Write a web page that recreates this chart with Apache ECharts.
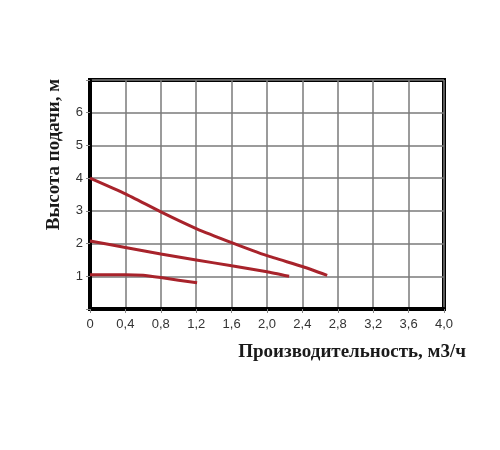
<!DOCTYPE html>
<html>
<head>
<meta charset="utf-8">
<script src="https://cdn.jsdelivr.net/npm/echarts@6/dist/echarts.min.js"></script>
<style>
  html, body { margin: 0; padding: 0; background: #fff; }
  #chart { width: 500px; height: 450px; }
</style>
</head>
<body>
<div id="chart"></div>
<script>
// flow, m3/h
const flowHigh = [0, 0.4, 0.8, 1.2, 1.6, 2.0, 2.4, 2.68]
const headHigh = [4.0, 3.52, 2.97, 2.46, 2.03, 1.63, 1.3, 1.03]

const flowMid = [0, 0.4, 0.8, 1.2, 1.6, 2.0, 2.25]
const headMid = [2.08, 1.88, 1.68, 1.5, 1.32, 1.14, 1.0]

const flowLow = [0, 0.4, 0.6, 0.8, 1.21]
const headLow = [1.05, 1.05, 1.03, 0.96, 0.8]

const yTickLabels = ['1', '2', '3', '4', '5', '6']

const lineColor = '#a8232b'

function pairs(xs, ys) {
  return xs.map((x, i) => [x, ys[i]])
}

function curve(xs, ys) {
  return {
    type: 'line',
    data: pairs(xs, ys),
    smooth: 0.15,
    showSymbol: false,
    lineStyle: { color: lineColor, width: 3 },
    silent: true
  }
}

const chart = echarts.init(document.getElementById('chart'))

chart.setOption({
  animation: false,
  grid: {
    left: 90, right: 56, top: 80, bottom: 141,
    show: true, borderColor: '#000', borderWidth: 4
  },
  xAxis: {
    type: 'value',
    min: 0, max: 4, interval: 0.4,
    name: 'Производительность, м3/ч',
    nameLocation: 'end',
    nameGap: 22,
    nameTextStyle: {
      fontFamily: 'Liberation Serif', fontWeight: 'bold', fontSize: 19,
      color: '#1a1a1a', align: 'right', verticalAlign: 'top', padding: [34, 0, 0, 0]
    },
    axisLine: { lineStyle: { color: '#000', width: 4 } },
    axisTick: { show: true, length: 4, lineStyle: { color: '#888' } },
    axisLabel: {
      margin: 9,
      fontFamily: 'Liberation Sans', fontSize: 13, color: '#333',
      formatter: v => v === 0 ? '0' : v.toFixed(1).replace('.', ',')
    },
    splitLine: { show: true, lineStyle: { color: '#7a7a7a', width: 1.5 } }
  },
  yAxis: {
    type: 'value',
    min: 0, max: 7, interval: 1,
    name: 'Высота подачи, м',
    nameLocation: 'middle',
    nameGap: 26,
    nameRotate: 90,
    nameTextStyle: {
      fontFamily: 'Liberation Serif', fontWeight: 'bold', fontSize: 19,
      color: '#1a1a1a', padding: [0, 0, 0, 80]
    },
    axisLine: { show: true, lineStyle: { color: '#000', width: 4 } },
    axisTick: { show: true, length: 4, lineStyle: { color: '#888' } },
    axisLabel: {
      margin: 7,
      fontFamily: 'Liberation Sans', fontSize: 13, color: '#333',
      formatter: v => yTickLabels.includes(String(v)) ? String(v) : ''
    },
    splitLine: { show: true, lineStyle: { color: '#7a7a7a', width: 1.5 } }
  },
  series: [
    curve(flowHigh, headHigh),
    curve(flowMid, headMid),
    curve(flowLow, headLow)
  ]
})
</script>
</body>
</html>
